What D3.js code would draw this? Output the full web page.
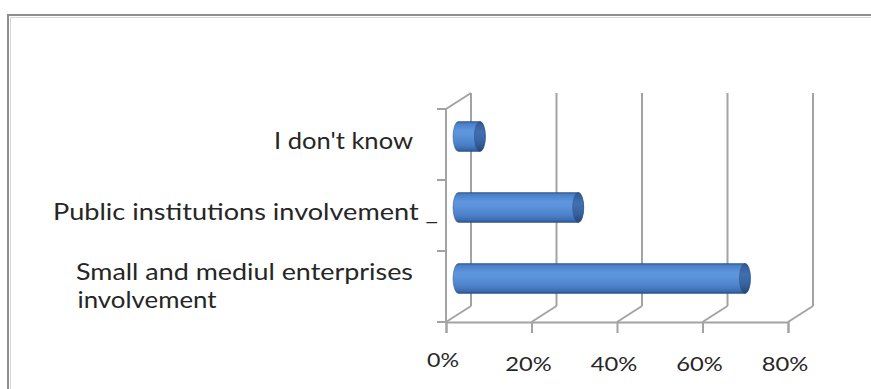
<!DOCTYPE html>
<html>
<head>
<meta charset="utf-8">
<script src="https://cdn.jsdelivr.net/npm/d3@7"></script>
<style>
  body { margin: 0; background: #fff; }
  svg { display: block; }
  text { font-family: Lato, "Open Sans", sans-serif; fill: #262626; }
</style>
</head>
<body>
<svg id="chart" width="871" height="389"></svg>
<script>
// Survey answers, top to bottom
const categories = ["I don't know", "Public institutions involvement", "Small and mediul enterprises involvement"];
const values = [5, 28, 67];
const categoryLines = [["I don't know"], ["Public institutions involvement _"], ["Small and mediul enterprises", "involvement"]];
const tickValues = [0, 20, 40, 60, 80];
const tickLabels = ["0%", "20%", "40%", "60%", "80%"];

const W = 871, H = 389;
const svg = d3.select("#chart");

// outer frame (runs off the right and bottom edges)
svg.append("rect")
  .attr("x", 8).attr("y", 15).attr("width", W).attr("height", H)
  .attr("fill", "#fff").attr("stroke", "#8e8e8e").attr("stroke-width", 2);
svg.append("path")
  .attr("d", `M10.5,${H} V17.5 H${W}`)
  .attr("fill", "none").attr("stroke", "#d6d6d6").attr("stroke-width", 1);

// front-plane scales; the back wall sits one depth step up and to the right
const x = d3.scaleLinear().domain([0, 80]).range([446, 788]);
const y = d3.scaleBand().domain(categories).range([109, 322]);
const dx = 25, dy = -16;
const [yTop, yBottom] = y.range();
const grid = "#a3a3a3";

const walls = svg.append("g").attr("fill", "none").attr("stroke", grid).attr("stroke-width", 2);

// back wall gridlines
walls.selectAll("line.back").data(tickValues).join("line")
  .attr("class", "back")
  .attr("x1", d => x(d) + dx).attr("x2", d => x(d) + dx)
  .attr("y1", yTop + dy).attr("y2", yBottom + dy);

// floor: diagonals from each front tick to the back wall
walls.selectAll("line.floor").data(tickValues).join("line")
  .attr("class", "floor")
  .attr("x1", d => x(d)).attr("y1", yBottom)
  .attr("x2", d => x(d) + dx).attr("y2", yBottom + dy);

// left wall: front edge and top diagonal
walls.append("path")
  .attr("d", `M${x(0) + dx},${yTop + dy} L${x(0)},${yTop} V${yBottom}`);

// category axis ticks (band boundaries)
const bounds = categories.map(c => y(c)).concat([yBottom]);
walls.selectAll("line.ytick").data(bounds).join("line")
  .attr("class", "ytick")
  .attr("x1", x(0) - 9).attr("x2", x(0))
  .attr("y1", d => d).attr("y2", d => d);

// value axis along the front of the floor
const xAxis = d3.axisBottom(x).tickValues(tickValues).tickSize(11).tickFormat("");
const gx = svg.append("g").attr("transform", `translate(0,${yBottom})`).call(xAxis);
gx.select(".domain").attr("stroke", grid).attr("stroke-width", 2);
gx.selectAll(".tick line").attr("stroke", grid).attr("stroke-width", 2);

svg.append("g").selectAll("text").data(tickValues).join("text")
  .attr("x", d => x(d) - 3)
  .attr("y", (d, i) => i === 0 ? 367 : 371)
  .attr("text-anchor", "middle")
  .attr("font-size", 20)
  .attr("textLength", (d, i) => tickLabels[i].length === 2 ? 32 : 46.5)
  .attr("lengthAdjust", "spacingAndGlyphs")
  .text((d, i) => tickLabels[i]);

// category labels
const lineWidths = {
  "I don't know": 139,
  "Public institutions involvement _": 385,
  "Small and mediul enterprises": 337,
  "involvement": 139
};
const labelRight = x(0) - 33;
const gy = svg.append("g");
categories.forEach((c, i) => {
  const lines = categoryLines[i];
  const mid = y(c) + y.bandwidth() / 2;
  if (lines.length === 1) {
    const t = lines[0];
    const right = t.endsWith("_") ? labelRight + 25 : labelRight;
    gy.append("text")
      .attr("x", right).attr("y", mid + 4.5)
      .attr("text-anchor", "end")
      .attr("font-size", 23)
      .attr("textLength", lineWidths[t]).attr("lengthAdjust", "spacingAndGlyphs")
      .text(t);
  } else {
    const left = labelRight - lineWidths[lines[0]];
    lines.forEach((t, k) => {
      gy.append("text")
        .attr("x", left + (k ? 1.5 : 0)).attr("y", mid - 6.5 + k * 28)
        .attr("font-size", 23)
        .attr("textLength", lineWidths[t]).attr("lengthAdjust", "spacingAndGlyphs")
        .text(t);
    });
  }
});

// cylinder shading
const defs = svg.append("defs");
const body = defs.append("linearGradient").attr("id", "cylBody")
  .attr("x1", 0).attr("y1", 0).attr("x2", 0).attr("y2", 1);
[[0, "#2f5a95"], [0.07, "#4a80c8"], [0.3, "#5e96dd"], [0.45, "#5c93da"],
 [0.75, "#4c82ca"], [0.92, "#3c6cb0"], [1, "#2b4e84"]]
  .forEach(([o, c]) => body.append("stop").attr("offset", o).attr("stop-color", c));
const cap = defs.append("linearGradient").attr("id", "cylCap")
  .attr("x1", 0).attr("y1", 0).attr("x2", 0).attr("y2", 1);
[[0, "#2f5994"], [0.35, "#4270ae"], [0.7, "#36639f"], [1, "#254677"]]
  .forEach(([o, c]) => cap.append("stop").attr("offset", o).attr("stop-color", c));

// bars as cylinders, centred at half depth
const r = 15, rx = 5.5;
const bars = svg.append("g");
categories.forEach((c, i) => {
  const x0 = x(0) + dx / 2, x1 = x(values[i]) + dx / 2;
  const cy = y(c) + y.bandwidth() / 2 + dy / 2;
  bars.append("path")
    .attr("d", `M${x0},${cy - r} L${x1},${cy - r} A${rx},${r} 0 0 1 ${x1},${cy + r} L${x0},${cy + r} A${rx},${r} 0 0 1 ${x0},${cy - r} Z`)
    .attr("fill", "url(#cylBody)")
    .attr("stroke", "#2a4f86").attr("stroke-opacity", 0.6).attr("stroke-width", 0.8);
  bars.append("ellipse")
    .attr("cx", x1).attr("cy", cy).attr("rx", rx).attr("ry", r)
    .attr("fill", "url(#cylCap)")
    .attr("stroke", "#2a4f86").attr("stroke-opacity", 0.6).attr("stroke-width", 0.8);
});
</script>
</body>
</html>
